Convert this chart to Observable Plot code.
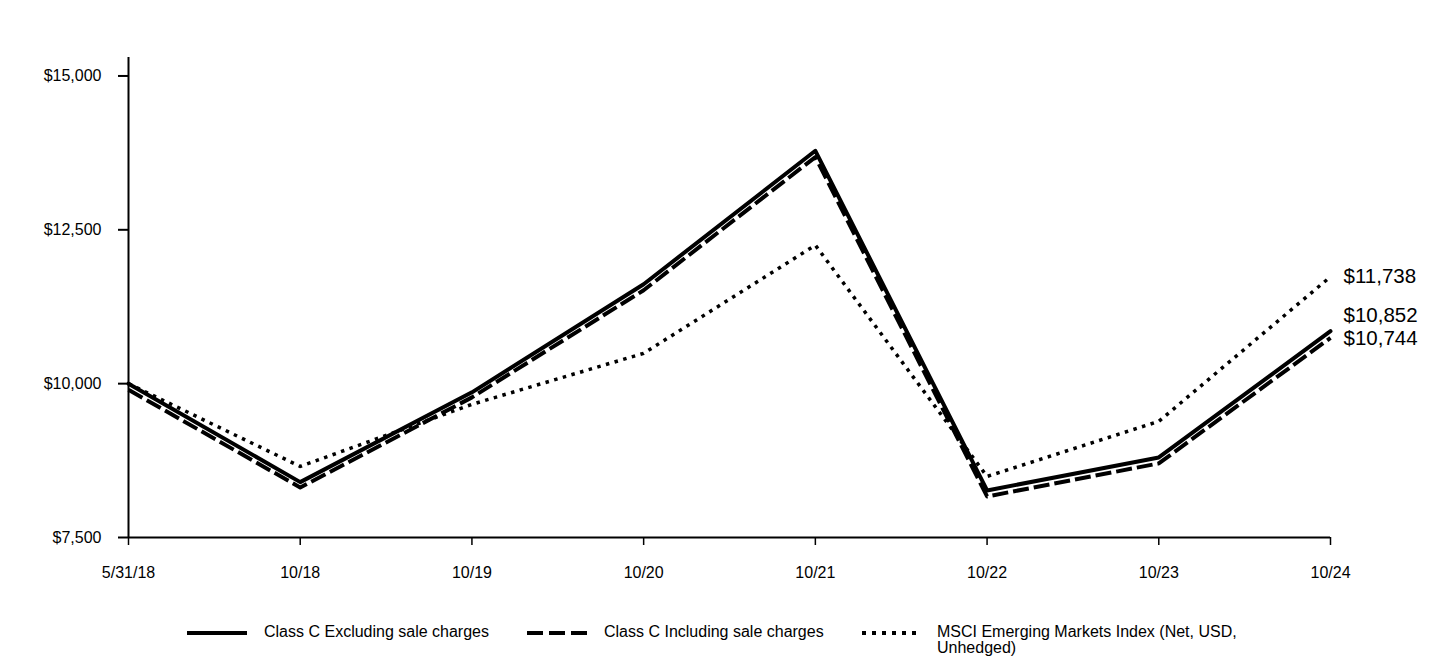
<!DOCTYPE html>
<html>
<head>
<meta charset="utf-8">
<script src="https://cdn.jsdelivr.net/npm/d3@7"></script>
<script src="https://cdn.jsdelivr.net/npm/@observablehq/plot@0.6"></script>
<style>
  html, body { margin: 0; padding: 0; background: #fff; }
  body { width: 1440px; height: 660px; overflow: hidden; font-family: Arial, "Liberation Sans", sans-serif; }
  #chart svg { display: block; max-width: none; }
  #legend { position: relative; height: 60px; font-size: 16px; color: #000; }
  .item { position: absolute; top: 0; display: flex; align-items: flex-start; }
  .item svg { display: block; margin-top: 5px; }
  .item span { line-height: 16px; margin-left: 17px; }
</style>
</head>
<body>
<div id="chart"></div>
<div id="legend"></div>
<script>
const dates = ["5/31/18", "10/18", "10/19", "10/20", "10/21", "10/22", "10/23", "10/24"];
const classCExcl = [10000, 8400, 9859, 11616, 13784, 8265, 8801, 10852];
const classCIncl = [9900, 8313, 9777, 11518, 13682, 8167, 8704, 10744];
const msci = [10000, 8655, 9664, 10493, 12250, 8492, 9387, 11738];
const seriesNames = ["Class C Excluding sale charges", "Class C Including sale charges", "MSCI Emerging Markets Index (Net, USD, Unhedged)"];
const yTicks = [7500, 10000, 12500, 15000];

const toRows = (vals, name) => vals.map((v, i) => ({date: dates[i], value: v, series: name}));
const rowsExcl = toRows(classCExcl, seriesNames[0]);
const rowsIncl = toRows(classCIncl, seriesNames[1]);
const rowsMsci = toRows(msci, seriesNames[2]);
const fmt = d => "$" + d3.format(",")(d);

const lastOf = rows => [rows[rows.length - 1]];

const chart = Plot.plot({
  width: 1440,
  height: 600,
  marginLeft: 128,
  marginRight: 110,
  marginTop: 57,
  marginBottom: 63,
  style: {fontFamily: "Arial, 'Liberation Sans', sans-serif", fontSize: "16px", color: "#000", background: "#fff"},
  x: {type: "point", domain: dates, padding: 0, round: false},
  y: {domain: [7500, 15300]},
  marks: [
    Plot.axisY({ticks: yTicks, tickFormat: fmt, tickSize: 10, tickPadding: 17, strokeWidth: 2, label: null, fontSize: 16}),
    Plot.axisX({tickSize: 8, tickPadding: 21, strokeWidth: 1.5, label: null, fontSize: 16}),
    Plot.ruleY([7500], {stroke: "#000", strokeWidth: 2}),
    Plot.ruleX([dates[0]], {y1: 7500, y2: 15300, stroke: "#000", strokeWidth: 2}),
    Plot.line(rowsMsci, {x: "date", y: "value", stroke: "#000", strokeWidth: 3.5, strokeDasharray: "3.5,5.5", strokeLinecap: "butt"}),
    Plot.line(rowsIncl, {x: "date", y: "value", stroke: "#000", strokeWidth: 4, strokeDasharray: "16,5", strokeLinecap: "butt"}),
    Plot.line(rowsExcl, {x: "date", y: "value", stroke: "#000", strokeWidth: 4}),
    Plot.text(lastOf(rowsMsci), {x: "date", y: "value", text: d => fmt(d.value), dx: 13, dy: 0, textAnchor: "start", fontSize: 20.5, fill: "#000"}),
    Plot.text(lastOf(rowsExcl), {x: "date", y: "value", text: d => fmt(d.value), dx: 13, dy: -16, textAnchor: "start", fontSize: 20.5, fill: "#000"}),
    Plot.text(lastOf(rowsIncl), {x: "date", y: "value", text: d => fmt(d.value), dx: 13, dy: 1, textAnchor: "start", fontSize: 20.5, fill: "#000"})
  ]
});
document.getElementById("chart").appendChild(chart);

// Legend
const legend = document.getElementById("legend");
const legendItems = [
  {name: seriesNames[0], left: 187, dash: null, width: 60, sw: 4},
  {name: seriesNames[1], left: 527, dash: "16,6", width: 60, sw: 4},
  {name: "MSCI Emerging Markets Index (Net, USD,<br>Unhedged)", left: 862, dash: "4,6", width: 58, sw: 4}
];
const legendTop = 24;
legendItems.forEach(it => {
  const div = document.createElement("div");
  div.className = "item";
  div.style.left = it.left + "px";
  div.style.top = legendTop + "px";
  const s = d3.create("svg").attr("width", it.width).attr("height", 8);
  s.append("line").attr("x1", 0).attr("x2", it.width).attr("y1", 4).attr("y2", 4)
    .attr("stroke", "#000").attr("stroke-width", it.sw)
    .attr("stroke-dasharray", it.dash);
  div.appendChild(s.node());
  const sp = document.createElement("span");
  sp.innerHTML = it.name;
  div.appendChild(sp);
  legend.appendChild(div);
});
</script>
</body>
</html>
